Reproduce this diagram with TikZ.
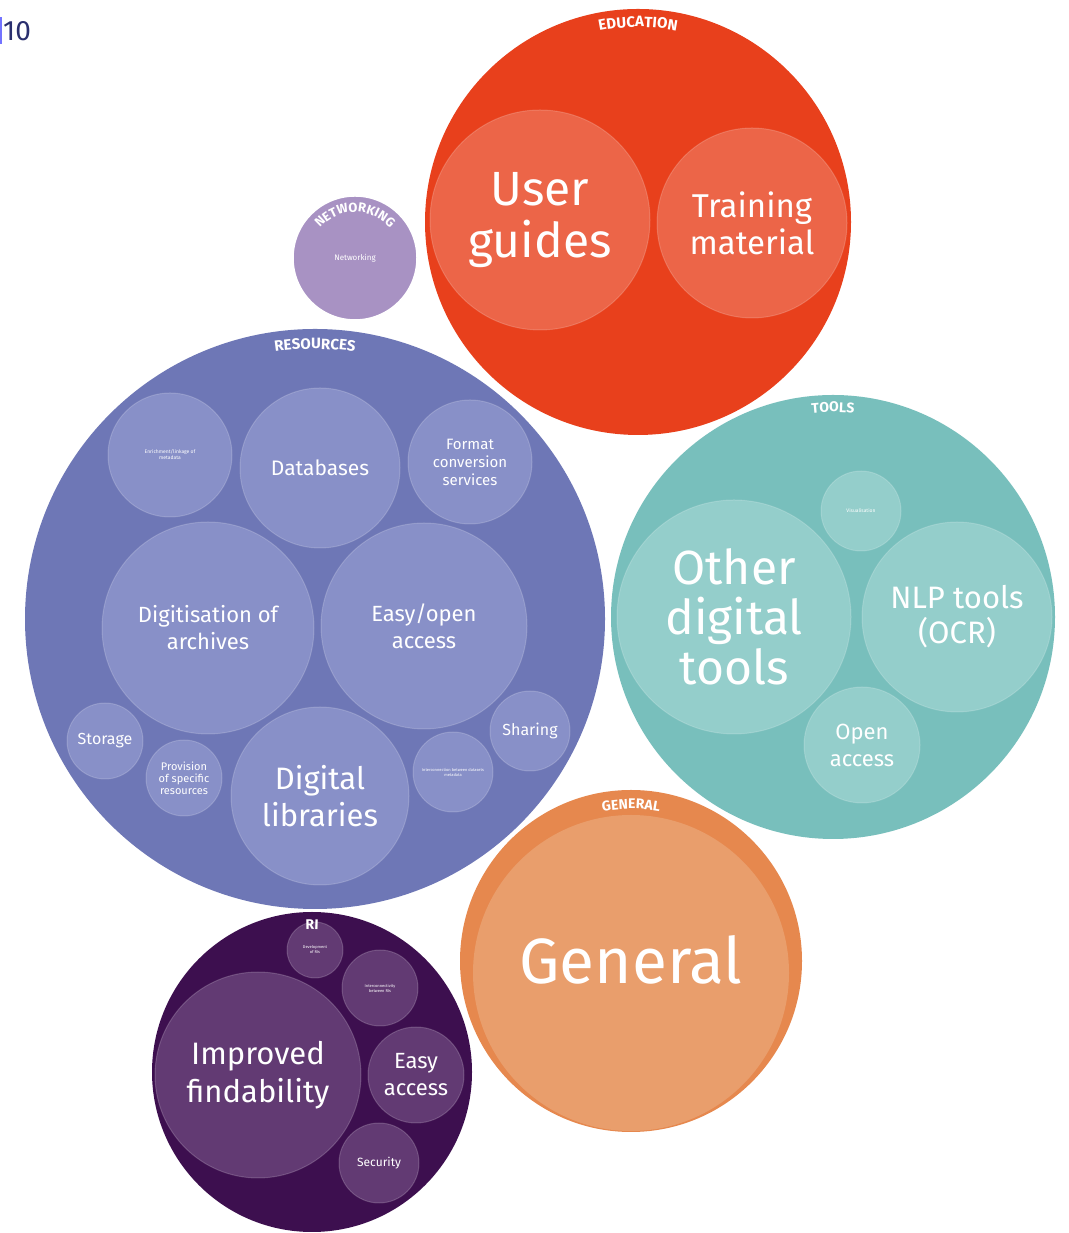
\documentclass[tikz,border=0pt]{standalone}
\usepackage{fontspec}
\setmainfont{Fira Sans}
\usetikzlibrary{decorations.text}
\definecolor{eduOut}{HTML}{E8401C}
\definecolor{eduIn}{HTML}{EC6548}
\definecolor{resOut}{HTML}{6E77B6}
\definecolor{resIn}{HTML}{8890C8}
\definecolor{toolOut}{HTML}{78BFBC}
\definecolor{toolIn}{HTML}{94CECB}
\definecolor{genOut}{HTML}{E6884E}
\definecolor{genIn}{HTML}{E99E6C}
\definecolor{riOut}{HTML}{3D0F4F}
\definecolor{riIn}{HTML}{623A73}
\definecolor{netCol}{HTML}{A892C3}
\definecolor{pageBlue}{HTML}{2A2F6E}
\newcommand\fsz[2]{\fontsize{#1pt}{#2pt}\selectfont}
\tikzset{
  bub/.style={circle, inner sep=0pt, align=center, text=white},
  bsize/.style={minimum size=#1*2pt},
  inner/.style={bub, draw=white, draw opacity=0.18, line width=1pt},
}
\begin{document}
\begin{tikzpicture}[x=1pt,y=1pt]
\useasboundingbox (0,0) rectangle (1068,1233);
\fill[white] (0,0) rectangle (1068,1233);
% page number
\node[anchor=west, inner sep=0pt, text=pageBlue, font=\fsz{28}{28}] (pg) at (3,1202) {10};
\fill[blue!55] (0,1189) rectangle (2,1216);

% Education
\node[bub, fill=eduOut, bsize=213] (edu) at (638,1011) {};
\node[inner, fill=eduIn, bsize=110, font=\fsz{48}{52}] (guides) at (540,1013) {User\\guides};
\node[inner, fill=eduIn, bsize=95, font=\fsz{33}{37}] (train) at (752,1010) {Training\\material};
\path[decorate, decoration={text along path, text align=center, text color=white, text={|\bfseries\fsz{15}{15}|EDUCATION}}] (edu.center) ++(120:195) arc (120:60:195);

% Networking
\node[bub, fill=netCol, draw=white, line width=1.5pt, bsize=62, font=\fsz{8}{9}] (net) at (355,975) {Networking};
\path[decorate, decoration={text along path, text align=center, text color=white, text={|\bfseries\fsz{13}{13}|NETWORKING}}] (net.center) ++(170:46) arc (170:10:46);

% Resources
\node[bub, fill=resOut, bsize=290] (res) at (315,614) {};
\node[inner, fill=resIn, bsize=62, font=\fsz{5}{6}] (enrich) at (170,778) {Enrichment/linkage of\\metadata};
\node[inner, fill=resIn, bsize=80, font=\fsz{21}{24}] (db) at (320,765) {Databases};
\node[inner, fill=resIn, bsize=62, font=\fsz{15}{18}] (fmt) at (470,771) {Format\\conversion\\services};
\node[inner, fill=resIn, bsize=106, font=\fsz{22}{27}] (digi) at (208,605) {Digitisation of\\archives};
\node[inner, fill=resIn, bsize=103, font=\fsz{22}{27}] (easyopen) at (424,607) {Easy/open\\access};
\node[inner, fill=resIn, bsize=38, font=\fsz{16}{18}] (store) at (105,492) {Storage};
\node[inner, fill=resIn, bsize=38, font=\fsz{11}{12}] (prov) at (184,455) {Provision\\of specific\\resources};
\node[inner, fill=resIn, bsize=89, font=\fsz{31}{37}] (diglib) at (320,437) {Digital\\libraries};
\node[inner, fill=resIn, bsize=40, font=\fsz{4}{5}] (inter) at (453,461) {Interconnection between datasets\\metadata};
\node[inner, fill=resIn, bsize=40, font=\fsz{16}{18}] (share) at (530,502) {Sharing};
\path[decorate, decoration={text along path, text align=center, text color=white, text={|\bfseries\fsz{15}{15}|RESOURCES}}] (res.center) ++(110:270) arc (110:70:270);

% Tools
\node[bub, fill=toolOut, bsize=222] (tools) at (833,616) {};
\node[inner, fill=toolIn, bsize=117, font=\fsz{48}{50}] (other) at (734,616) {Other\\digital\\tools};
\node[inner, fill=toolIn, bsize=40, font=\fsz{5}{6}] (vis) at (861,722) {Visualisation};
\node[inner, fill=toolIn, bsize=95, font=\fsz{31}{35}] (nlp) at (957,616) {NLP tools\\(OCR)};
\node[inner, fill=toolIn, bsize=58, font=\fsz{22}{27}] (oa) at (862,488) {Open\\access};
\path[decorate, decoration={text along path, text align=center, text color=white, text={|\bfseries\fsz{14}{14}|TOOLS}}] (tools.center) ++(115:205) arc (115:65:205);

% General
\node[bub, fill=genOut, bsize=171] (gen) at (631,272) {};
\node[bub, fill=genIn, bsize=158] (genin) at (631,260) {};
\node[text=white, font=\fsz{64}{64}, inner sep=0pt] (gentext) at (631,273) {General};
\path[decorate, decoration={text along path, text align=center, text color=white, text={|\bfseries\fsz{14}{14}|GENERAL}}] (gen.center) ++(115:152) arc (115:65:152);

% RI
\node[bub, fill=riOut, bsize=160] (ri) at (312,161) {};
\node[inner, fill=riIn, bsize=28, font=\fsz{4}{5}] (dev) at (315,283) {Development\\of RIs};
\node[inner, fill=riIn, bsize=38, font=\fsz{4}{5}] (icon) at (380,245) {Interconnectivity\\between RIs};
\node[inner, fill=riIn, bsize=103, font=\fsz{31}{38}] (find) at (258,158) {Improved\\findability};
\node[inner, fill=riIn, bsize=48, font=\fsz{22}{27}] (easyacc) at (416,158) {Easy\\access};
\node[inner, fill=riIn, bsize=40, font=\fsz{12}{14}] (sec) at (379,70) {Security};
\path[decorate, decoration={text along path, text align=center, text color=white, text={|\bfseries\fsz{14}{14}|RI}}] (ri.center) ++(105:143) arc (105:75:143);
\end{tikzpicture}
\end{document}
